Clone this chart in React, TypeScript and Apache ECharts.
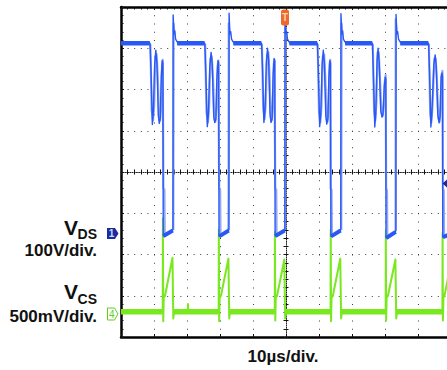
import React, { useEffect, useRef } from 'react';
import * as echarts from 'echarts';

// Time axis in µs relative to trigger (10 µs/div), vertical axis in divisions
const X_MIN = -50;
const X_MAX = 50;
const X_DIV = 10;
const Y_MIN = -4;
const Y_MAX = 4;
const Y_DIV = 1;

const GAP: any = ['-', '-'];

// VDS (channel 1, 100 V/div) – main trace (µs, div)
const vdsTrace: any[] = [
  [-50, 3.12], [-41.2, 3.12],
  [-40.9, 2.45], [-40.5, 1.15], [-40.2, 1.45], [-39.8, 2.6], [-39.45, 2.95], [-39.1, 2.62], [-38.7, 1.38], [-38.4, 1.18], [-38.1, 1.3], [-37.8, 2.3], [-37.5, 2.7], [-37.3, 2.64], [-37.2, -1.55],
  [-36.0, -1.52], [-34.5, -1.42], [-34.25, -1.4],
  [-34.2, 3.81], [-33.95, 3.35], [-33.7, 3.42], [-33.45, 3.22], [-33.1, 3.17], [-32.6, 3.12],
  [-24.6, 3.12],
  [-24.3, 2.4], [-23.85, 1.1], [-23.5, 1.42], [-23.1, 2.55], [-22.7, 2.9], [-22.35, 2.6], [-21.9, 1.35], [-21.6, 1.2], [-21.25, 1.28], [-20.95, 2.25], [-20.6, 2.7], [-20.4, 2.64], [-20.3, -1.56],
  [-19.0, -1.52], [-17.5, -1.42], [-17.3, -1.4],
  [-17.25, 3.85], [-17.0, 3.35], [-16.75, 3.4], [-16.5, 3.22], [-16.15, 3.17], [-15.6, 3.12],
  [-7.4, 3.12],
  [-7.1, 2.5], [-6.7, 1.2], [-6.35, 1.5], [-5.95, 2.65], [-5.6, 3.0], [-5.25, 2.7], [-4.85, 1.42], [-4.55, 1.2], [-4.2, 1.3], [-3.9, 2.35], [-3.6, 2.75], [-3.4, 2.68], [-3.3, -1.55],
  [-2.0, -1.52], [-0.55, -1.42], [-0.35, -1.4],
  [-0.3, 3.72], [-0.05, 3.35], [0.2, 3.4], [0.45, 3.22], [0.8, 3.17], [1.3, 3.12],
  [9.5, 3.12],
  [9.8, 2.45], [10.2, 1.1], [10.55, 1.42], [10.95, 2.6], [11.3, 2.95], [11.65, 2.62], [12.05, 1.38], [12.35, 1.16], [12.7, 1.3], [13.0, 2.3], [13.3, 2.7], [13.5, 2.64], [13.6, -1.56],
  [14.8, -1.52], [16.4, -1.42], [16.6, -1.4],
  [16.65, 3.84], [16.9, 3.35], [17.15, 3.42], [17.4, 3.22], [17.75, 3.17], [18.25, 3.12],
  [26.2, 3.12],
  [26.5, 2.3], [26.9, 1.09], [27.2, 1.4], [27.6, 2.7], [27.9, 3.0], [28.25, 2.65], [28.7, 1.5], [29.1, 1.33], [29.4, 1.4], [29.8, 2.1], [30.1, 2.3], [30.25, 2.25], [30.3, -1.6],
  [31.5, -1.55], [33.1, -1.45], [33.3, -1.42],
  [33.35, 3.82], [33.6, 3.35], [33.85, 3.4], [34.1, 3.22], [34.45, 3.17], [34.95, 3.12],
  [43.2, 3.12],
  [43.5, 2.4], [43.9, 1.09], [44.2, 1.4], [44.8, 2.6], [45.2, 2.84], [45.5, 2.6], [46.0, 1.4], [46.4, 1.19], [46.7, 1.35], [47.0, 2.3], [47.3, 2.4], [47.45, 2.3], [47.5, -1.58],
  [50, -1.48],
];

// VDS – lighter persistence trace (other acquisitions)
const vdsGhost: any[] = [
  [-41.1, 3.1], [-40.7, 1.5], [-40.3, 1.25], [-39.95, 1.6], [-39.6, 2.8], [-39.2, 2.85], [-38.85, 2.3], [-38.45, 1.3], [-38.15, 1.25], [-37.85, 1.6], [-37.55, 2.6], [-37.35, 2.72], [-37.15, -0.39], [-36.85, -0.42], [-36.75, -1.52], GAP,
  [-34.15, -1.4], [-34.05, 3.6], [-33.8, 3.3], GAP,
  [-24.5, 3.1], [-24.1, 1.45], [-23.65, 1.2], [-23.3, 1.6], [-22.9, 2.75], [-22.5, 2.8], [-22.1, 2.25], [-21.7, 1.3], [-21.4, 1.22], [-21.05, 1.6], [-20.75, 2.55], [-20.5, 2.7], [-20.25, -0.4], [-19.95, -0.44], [-19.85, -1.52], GAP,
  [-17.45, -1.4], [-17.4, -0.5], [-17.35, 3.6], [-17.1, 3.3], GAP,
  [-7.3, 3.1], [-6.9, 1.55], [-6.5, 1.28], [-6.15, 1.65], [-5.75, 2.85], [-5.35, 2.9], [-5.0, 2.35], [-4.6, 1.32], [-4.3, 1.25], [-4.0, 1.62], [-3.7, 2.62], [-3.5, 2.72], [-3.25, -0.4], [-2.95, -0.43], [-2.85, -1.52], GAP,
  [-0.25, -1.4], [-0.15, 3.5], [0.1, 3.3], GAP,
  [9.6, 3.1], [10.0, 1.45], [10.4, 1.2], [10.75, 1.6], [11.15, 2.8], [11.55, 2.85], [11.9, 2.3], [12.3, 1.3], [12.6, 1.22], [12.9, 1.6], [13.2, 2.6], [13.4, 2.72], [13.5, -0.4], [13.8, -0.43], [13.9, -1.52], GAP,
  [16.75, -1.4], [16.85, 3.6], [17.1, 3.3], GAP,
  [26.3, 3.1], [26.7, 1.5], [27.05, 1.25], [27.4, 1.7], [27.75, 2.9], [28.1, 2.9], [28.45, 2.3], [28.9, 1.45], [29.25, 1.35], [29.6, 1.6], [29.95, 2.2], [30.2, 2.35], [30.35, -0.4], [30.6, -0.44], [30.7, -1.55], GAP,
  [33.2, -1.42], [33.25, 3.7], [33.5, 3.3], GAP,
  [43.3, 3.1], [43.7, 1.4], [44.05, 1.2], [44.4, 1.6], [44.95, 2.75], [45.35, 2.75], [45.7, 2.3], [46.15, 1.3], [46.55, 1.22], [46.85, 1.6], [47.15, 2.35], [47.4, 2.45], [47.55, -0.4], [47.8, -0.44], [47.9, -1.55],
];

// VDS noisy flat segments (off-state plateau, on-state level)
const vdsPlateau: any[] = [
  [-50, 3.12], [-41.25, 3.12], GAP,
  [-33.0, 3.12], [-24.65, 3.12], GAP,
  [-16.0, 3.12], [-7.45, 3.12], GAP,
  [1.0, 3.12], [9.45, 3.12], GAP,
  [17.9, 3.12], [26.15, 3.12], GAP,
  [34.6, 3.12], [43.15, 3.12],
];
const vdsLow: any[] = [
  [-37.15, -1.55], [-34.3, -1.42], GAP,
  [-20.25, -1.56], [-17.35, -1.42], GAP,
  [-3.25, -1.55], [-0.4, -1.42], GAP,
  [13.65, -1.56], [16.55, -1.42], GAP,
  [30.35, -1.6], [33.25, -1.45], GAP,
  [47.55, -1.58], [50, -1.5],
];

// VCS (channel 4, 500 mV/div)
const vcsTrace: any[] = [
  [-50, -3.39], [-37.35, -3.39], [-37.3, -1.12], [-37.2, -3.62], [-37.05, -3.05], [-36.65, -3.0], [-34.4, -2.08], [-34.15, -3.55], [-33.9, -3.39],
  [-29.75, -3.39], [-29.7, -3.2], [-29.62, -3.39],
  [-20.4, -3.39], [-20.35, -1.4], [-20.25, -3.62], [-20.1, -3.05], [-19.7, -3.0], [-17.45, -2.1], [-17.2, -3.55], [-16.95, -3.39],
  [-3.4, -3.39], [-3.35, -1.45], [-3.25, -3.6], [-3.1, -3.05], [-2.7, -3.0], [-0.5, -2.12], [-0.25, -3.55], [0.0, -3.39],
  [13.5, -3.39], [13.55, -1.4], [13.65, -3.62], [13.8, -3.05], [14.2, -3.0], [16.45, -2.1], [16.7, -3.55], [16.95, -3.39],
  [30.2, -3.39], [30.25, -1.45], [30.35, -3.6], [30.5, -3.05], [30.9, -3.0], [33.15, -2.12], [33.4, -3.55], [33.65, -3.39],
  [47.4, -3.39], [47.45, -1.48], [47.55, -3.6], [47.7, -3.05], [48.1, -2.98], [50, -2.18],
];
const vcsBaseline: any[] = [
  [-50, -3.39], [-37.4, -3.39], GAP,
  [-33.9, -3.39], [-20.45, -3.39], GAP,
  [-16.95, -3.39], [-3.45, -3.39], GAP,
  [0, -3.39], [13.45, -3.39], GAP,
  [16.95, -3.39], [30.15, -3.39], GAP,
  [33.65, -3.39], [47.35, -3.39],
];

const BLUE = '#2a58f6';
const BLUE_LIGHT = '#93aaf3';
const GREEN = '#79e81f';
const NAVY = '#1a2b9c';
const FONT = '"Liberation Sans", Arial, Helvetica, sans-serif';

function xAxisBase(extra: any) {
  return {
    type: 'value', min: X_MIN, max: X_MAX, interval: X_DIV,
    axisLabel: { show: false },
    splitLine: { show: false },
    axisTick: { show: false },
    minorTick: { show: false },
    ...extra,
  };
}
function yAxisBase(extra: any) {
  return {
    type: 'value', min: Y_MIN, max: Y_MAX, interval: Y_DIV,
    axisLabel: { show: false },
    splitLine: { show: false },
    axisTick: { show: false },
    minorTick: { show: false },
    ...extra,
  };
}

function lineSeries(data: any[], color: string, width: number, z: number) {
  return {
    type: 'line', data, xAxisIndex: 0, yAxisIndex: 0,
    showSymbol: false, symbol: 'none', connectNulls: false, silent: true, z,
    lineStyle: { color, width, cap: 'butt', join: 'round' },
    itemStyle: { color },
  };
}

function label(text: string, x: number, y: number, size: number, align: string) {
  return {
    type: 'text', x, y, z: 100,
    style: { text, font: `bold ${size}px ${FONT}`, fill: '#111', textAlign: align, textVerticalAlign: 'middle' },
  };
}

export default function App() {
  const ref = useRef<HTMLDivElement>(null);
  useEffect(() => {
    const chart = echarts.init(ref.current!, null, { renderer: 'svg', width: 447, height: 370 });
    const frame = { color: '#000', width: 2.5 };
    const tickStyle = { color: '#111', width: 1 };
    chart.setOption({
      animation: false,
      backgroundColor: '#fff',
      grid: { left: 121, top: 7, width: 330, height: 330, containLabel: false, outerBoundsMode: 'none' },
      xAxis: [
        xAxisBase({
          position: 'bottom',
          axisLine: { show: true, onZero: false, lineStyle: frame },
          axisTick: { show: true, inside: true, length: 3, lineStyle: tickStyle },
          splitLine: { show: true, lineStyle: { color: '#3a3a3a', width: 1, type: [1, 7.25] } },
        }),
        xAxisBase({
          position: 'top',
          axisLine: { show: true, onZero: false, lineStyle: frame },
          axisTick: { show: true, inside: true, length: 3, lineStyle: tickStyle },
          minorTick: { show: true, splitNumber: 5, length: 2.5, lineStyle: tickStyle },
        }),
        xAxisBase({
          position: 'bottom',
          axisLine: { show: true, onZero: true, onZeroAxisIndex: 0, lineStyle: { color: '#222', width: 1, type: [1, 1.2] } },
          axisTick: { show: true, inside: true, length: 2.5, lineStyle: tickStyle },
          minorTick: { show: true, splitNumber: 5, length: 2.5, lineStyle: tickStyle },
        }),
        xAxisBase({
          position: 'bottom',
          axisLine: { show: false, onZero: true, onZeroAxisIndex: 0 },
          axisTick: { show: true, inside: false, length: 2.5, lineStyle: tickStyle },
          minorTick: { show: true, splitNumber: 5, length: 2.5, lineStyle: tickStyle },
        }),
      ],
      yAxis: [
        yAxisBase({
          position: 'left',
          axisLine: { show: true, onZero: false, lineStyle: frame },
          axisTick: { show: true, inside: true, length: 3, lineStyle: tickStyle },
          minorTick: { show: true, splitNumber: 5, length: 2.5, lineStyle: tickStyle },
          splitLine: { show: true, lineStyle: { color: '#3a3a3a', width: 1, type: [1, 5.6] } },
        }),
        yAxisBase({
          position: 'left',
          axisLine: { show: true, onZero: true, onZeroAxisIndex: 0, lineStyle: { color: '#222', width: 1, type: [1, 1.2] } },
          axisTick: { show: true, inside: true, length: 2.5, lineStyle: tickStyle },
          minorTick: { show: true, splitNumber: 5, length: 2.5, lineStyle: tickStyle },
        }),
        yAxisBase({
          position: 'left',
          axisLine: { show: false, onZero: true, onZeroAxisIndex: 0 },
          axisTick: { show: true, inside: false, length: 2.5, lineStyle: tickStyle },
          minorTick: { show: true, splitNumber: 5, length: 2.5, lineStyle: tickStyle },
        }),
      ],
      series: [
        lineSeries(vcsBaseline, GREEN, 5.5, 2),
        lineSeries(vcsTrace, GREEN, 2, 3),
        lineSeries(vdsGhost, BLUE_LIGHT, 2.2, 4),
        lineSeries(vdsPlateau, BLUE, 4.5, 5),
        lineSeries(vdsLow, BLUE, 4, 5),
        lineSeries(vdsTrace, BLUE, 1.4, 6),
      ],
      graphic: [
        label('V', 78, 227.5, 21, 'right'),
        label('DS', 97, 233.5, 14, 'right'),
        label('100V/div.', 97, 250.5, 17, 'right'),
        label('V', 78, 291, 21, 'right'),
        label('CS', 97, 298.5, 14, 'right'),
        label('500mV/div.', 97, 316.5, 17, 'right'),
        label('10\u00b5s/div.', 283, 356.5, 17, 'center'),
        {
          type: 'polygon', z: 100,
          shape: { points: [[107, 228], [115, 228], [118.5, 233.5], [115, 239], [107, 239]] },
          style: { fill: NAVY },
        },
        {
          type: 'text', x: 111.5, y: 233.7, z: 101,
          style: { text: '1', font: `bold 10px ${FONT}`, fill: '#cfd8ff', textAlign: 'center', textVerticalAlign: 'middle' },
        },
        {
          type: 'polygon', z: 100,
          shape: { points: [[107.5, 308], [114.5, 308], [118, 314], [114.5, 320], [107.5, 320]] },
          style: { fill: '#fff', stroke: '#5ecf1e', lineWidth: 1 },
        },
        {
          type: 'text', x: 111.8, y: 314.2, z: 101,
          style: { text: '4', font: `10px ${FONT}`, fill: '#5ecf1e', textAlign: 'center', textVerticalAlign: 'middle' },
        },
        {
          type: 'rect', z: 100,
          shape: { x: 281, y: 9.5, width: 8, height: 16, r: 2.5 },
          style: { fill: '#f0682c' },
        },
        {
          type: 'text', x: 285, y: 17, z: 101,
          style: { text: 'T', font: `bold 10px ${FONT}`, fill: '#ffd2b5', textAlign: 'center', textVerticalAlign: 'middle' },
        },
        {
          type: 'polygon', z: 100,
          shape: { points: [[442.5, 183.5], [447, 179.5], [447, 187.5]] },
          style: { fill: NAVY },
        },
      ],
    });
    return () => chart.dispose();
  }, []);
  return (
    <div
      ref={ref}
      style={{ position: 'fixed', left: 0, top: 0, width: 447, height: 370, background: '#fff' }}
    />
  );
}
